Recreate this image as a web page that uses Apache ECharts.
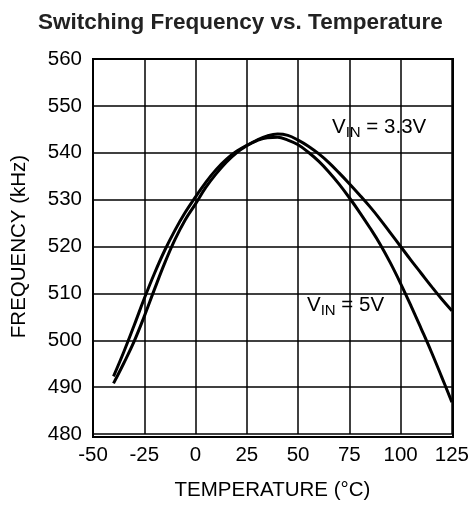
<!DOCTYPE html>
<html>
<head>
<meta charset="utf-8">
<script src="https://cdn.jsdelivr.net/npm/echarts@6/dist/echarts.min.js"></script>
<style>html,body{margin:0;padding:0;background:#fff}#c{width:472px;height:506px}</style>
</head>
<body>
<div id="c"></div>
<script>
var temps = [-40,-35,-30,-25,-20,-15,-10,-5,0,5,10,15,20,25,30,35,40,45,50,55,60,65,70,75,80,85,90,95,100,105,110,115,120,125];
var vin5 = [492.3,497.5,503.1,508.9,514.3,519.2,523.5,527.3,530.6,533.7,536.4,538.6,540.3,541.6,542.6,543.2,543.3,542.7,541.7,540.1,538.2,535.9,533.3,530.4,527.3,524.0,520.5,516.5,512.1,507.4,502.5,497.5,492.2,486.8];
var vin33 = [490.8,495.1,499.7,505.1,510.9,516.5,521.5,525.7,529.1,532.6,535.5,538.0,540.0,541.5,542.7,543.6,544.0,543.7,542.7,541.4,539.8,537.9,535.7,533.4,531.0,528.5,525.8,522.9,520.0,517.1,514.3,511.5,508.8,506.3];
var xTicks = [-50,-25,0,25,50,75,100,125];
var yTicks = [480,490,500,510,520,530,540,550,560];
var titleText = 'Switching Frequency vs. Temperature';
var xName = 'TEMPERATURE (°C)';
var yName = 'FREQUENCY (kHz)';
var label33 = '{a|V}{b|IN}{a| = 3.3V}';
var label5 = '{a|V}{b|IN}{a| = 5V}';

function pairs(xs, ys){ return xs.map(function(x,i){return [x, ys[i]];}); }

var font = 'Liberation Sans, Arial, sans-serif';
var rich = {a:{fontFamily:font,fontSize:20.5,fill:'#000'},b:{fontFamily:font,fontSize:15,fill:'#000',padding:[11,0,0,0]}};
var chart = echarts.init(document.getElementById('c'), null, {renderer:'canvas'});
chart.setOption({
  animation:false,
  backgroundColor:'#fff',
  title:{text:titleText,left:33,top:6,textStyle:{fontFamily:font,fontSize:22.5,fontWeight:'bold',color:'#222'}},
  grid:{left:93,right:19,top:59,bottom:69},
  xAxis:{type:'value',min:xTicks[0],max:xTicks[xTicks.length-1],interval:25,
    name:xName,nameLocation:'middle',nameGap:46,nameTextStyle:{fontFamily:font,fontSize:20.5,color:'#000'},
    axisLine:{show:false},axisTick:{show:false},
    axisLabel:{fontFamily:font,fontSize:20.5,color:'#000',margin:11},
    splitLine:{show:true,lineStyle:{color:'#000',width:1.5}}},
  yAxis:{type:'value',min:yTicks[0],max:yTicks[yTicks.length-1],interval:10,
    name:yName,nameLocation:'middle',nameGap:63,nameTextStyle:{fontFamily:font,fontSize:20.5,color:'#000'},
    axisLine:{show:false},axisTick:{show:false},
    axisLabel:{fontFamily:font,fontSize:20.5,color:'#000',margin:11},
    splitLine:{show:true,lineStyle:{color:'#000',width:1.5}}},
  series:[
    {type:'line',name:'VIN=5V',data:pairs(temps,vin5),smooth:0.4,showSymbol:false,lineStyle:{color:'#000',width:3}},
    {type:'line',name:'VIN=3.3V',data:pairs(temps,vin33),smooth:0.4,showSymbol:false,lineStyle:{color:'#000',width:3}}
  ],
  graphic:[
    {type:'rect',shape:{x:93,y:59,width:360,height:378},style:{fill:'none',stroke:'#000',lineWidth:2},z:100},
    {type:'text',left:332,top:117,z:101,style:{text:label33,rich:rich}},
    {type:'text',left:307,top:295,z:101,style:{text:label5,rich:rich}}
  ]
});
</script>
</body>
</html>
